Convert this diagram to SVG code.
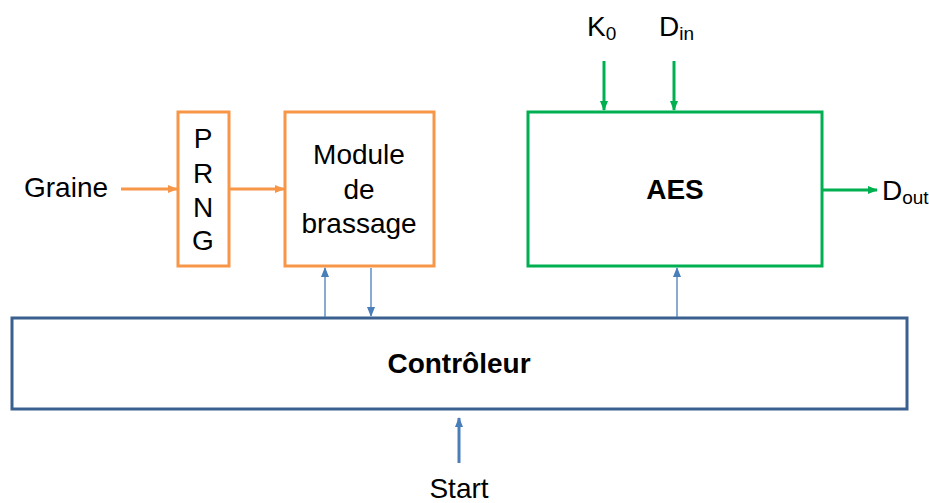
<svg xmlns="http://www.w3.org/2000/svg" width="929" height="503" viewBox="0 0 929 503">
<style>
text{font-family:"Liberation Sans",Arial,sans-serif;font-size:28px;fill:#000}
.b{font-weight:bold}
.or{fill:#fff;stroke:#f79646;stroke-width:3}
.gr{fill:#fff;stroke:#00b050;stroke-width:3}
.bl{fill:#fff;stroke:#3a6090;stroke-width:3}
.co{stroke:#f79646;stroke-width:3;fill:none}
.cg{stroke:#00b050;stroke-width:3;fill:none}
.cb{stroke:#4a7ebb;stroke-width:1.3;fill:none}
.cs{stroke:#4a7ebb;stroke-width:3;fill:none}
</style>
<defs>
<marker id="ao" markerWidth="10" markerHeight="10" refX="9" refY="5" orient="auto" markerUnits="userSpaceOnUse"><path d="M0,1 L10,5 L0,9 Z" fill="#f79646"/></marker>
<marker id="ag" markerWidth="10" markerHeight="10" refX="9" refY="5" orient="auto" markerUnits="userSpaceOnUse"><path d="M0,1 L10,5 L0,9 Z" fill="#00b050"/></marker>
<marker id="ab" markerWidth="10" markerHeight="10" refX="9" refY="5" orient="auto" markerUnits="userSpaceOnUse"><path d="M0,1 L10,5 L0,9 Z" fill="#4a7ebb"/></marker>
</defs>
<g id="prng"><rect class="or" x="178" y="112" width="51" height="154"/>
<text x="203" y="148" text-anchor="middle">P</text><text x="203" y="183" text-anchor="middle">R</text><text x="203" y="217" text-anchor="middle">N</text><text x="203" y="250" text-anchor="middle">G</text></g>
<g id="module"><rect class="or" x="285" y="112" width="149" height="154"/>
<text x="359" y="164" text-anchor="middle">Module</text><text x="359" y="199" text-anchor="middle">de</text><text x="359" y="233" text-anchor="middle">brassage</text></g>
<g id="aes"><rect class="gr" x="528" y="112" width="294" height="154"/>
<text class="b" x="675" y="199" text-anchor="middle">AES</text></g>
<g id="controleur"><rect class="bl" x="12" y="318" width="895" height="91"/>
<text class="b" x="459" y="373" text-anchor="middle">Contrôleur</text></g>
<g id="labels">
<text x="24" y="197">Graine</text>
<text x="587" y="36">K<tspan font-size="19" dy="4">0</tspan></text>
<text x="659" y="36">D<tspan font-size="19" dy="4">in</tspan></text>
<text x="882" y="200">D<tspan font-size="19" dy="4">out</tspan></text>
<text x="459" y="498" text-anchor="middle">Start</text>
</g>
<g id="connectors">
<line class="co" x1="121" y1="189" x2="177" y2="189" marker-end="url(#ao)"/>
<line class="co" x1="230" y1="189" x2="284" y2="189" marker-end="url(#ao)"/>
<line class="cg" x1="604" y1="61" x2="604" y2="110" marker-end="url(#ag)"/>
<line class="cg" x1="674" y1="61" x2="674" y2="110" marker-end="url(#ag)"/>
<line class="cg" x1="823" y1="190" x2="877" y2="190" marker-end="url(#ag)"/>
<line class="cb" x1="325" y1="317" x2="325" y2="268" marker-end="url(#ab)"/>
<line class="cb" x1="371" y1="268" x2="371" y2="316" marker-end="url(#ab)"/>
<line class="cb" x1="677" y1="317" x2="677" y2="268" marker-end="url(#ab)"/>
<line class="cs" x1="459" y1="463" x2="459" y2="418" marker-end="url(#ab)"/>
</g>
</svg>
